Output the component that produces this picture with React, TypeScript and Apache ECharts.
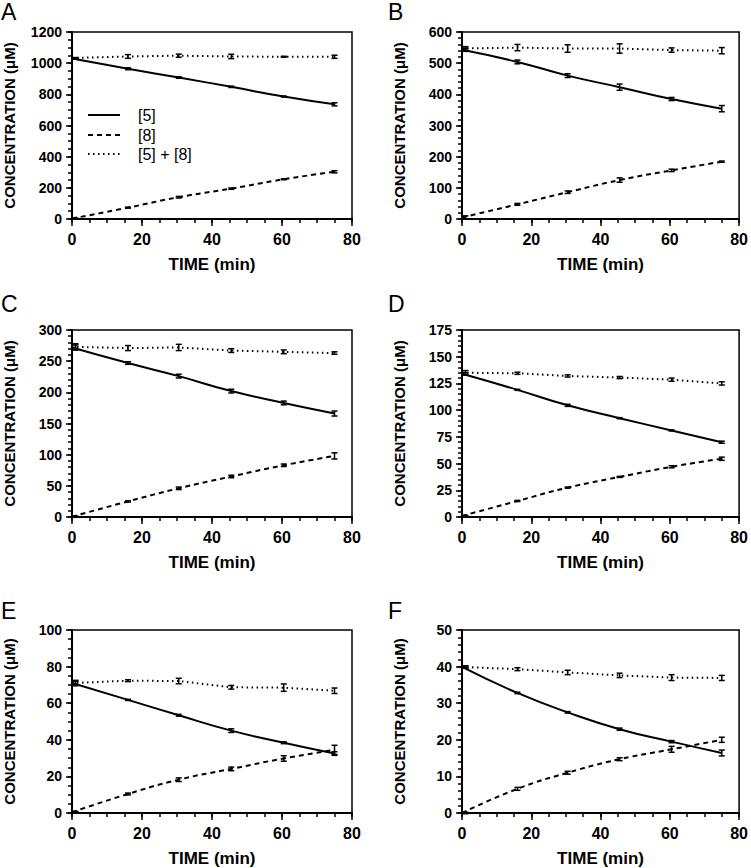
import React, { useEffect, useRef } from 'react';
import * as echarts from 'echarts';

// sampling times (min) of the measured points
const times = [1, 16, 30.5, 45.5, 60.5, 75];
// times used for the drawn curves (start at t = 0)
const curveTimes = [0, 16, 30.5, 45.5, 60.5, 75];
const xTicks = [0, 20, 40, 60, 80];
const xMinorStep = 5;

const panelLabels = ['A', 'B', 'C', 'D', 'E', 'F'];
const yMax = [1200, 600, 300, 175, 100, 50];
const yStep = [200, 100, 50, 25, 20, 10];
const yMinorStep = [50, 20, 10, 5, 5, 2];

// Panel A
const a5 = [1030, 964, 908, 848, 786, 736];
const a5Err = [4, 6, 5, 4, 3, 10];
const a8 = [3, 73, 140, 195, 255, 303];
const a8Err = [3, 3, 5, 4, 3, 7];
const aSum = [1033, 1043, 1048, 1043, 1041, 1041];
const aSumErr = [3, 12, 10, 14, 3, 10];

// Panel B
const b5 = [543, 504, 460, 423, 385, 354];
const b5Err = [5, 6, 6, 10, 5, 10];
const b8 = [5, 47, 86, 125, 156, 184];
const b8Err = [5, 3, 4, 7, 4, 2];
const bSum = [547, 550, 547, 547, 542, 540];
const bSumErr = [6, 10, 12, 15, 7, 10];

// Panel C
const c5 = [272, 247, 226, 202, 183, 166];
const c5Err = [4, 2, 3, 3, 3, 4];
const c8 = [0.5, 25, 46, 65, 83, 98];
const c8Err = [1, 1, 2, 2, 2, 5];
const cSum = [273, 271, 272, 267, 265, 263];
const cSumErr = [5, 4, 5, 3, 3, 2];

// Panel D
const d5 = [134, 119, 104.5, 92.5, 81, 70];
const d5Err = [1, 0.5, 1, 0.5, 0.5, 1];
const d8 = [1, 15, 27.5, 37.5, 47, 54.5];
const d8Err = [0.5, 0.5, 0.5, 0.5, 1, 1.5];
const dSum = [135, 134.5, 132, 130.5, 128.5, 125];
const dSumErr = [2, 1, 1, 1, 1.5, 1.5];

// Panel E
const e5 = [71, 61.8, 53.4, 45, 38.4, 32.5];
const e5Err = [1, 0.3, 0.5, 1, 0.5, 1];
const e8 = [0.4, 10.4, 18.2, 24.1, 29.8, 34.5];
const e8Err = [0.5, 0.5, 1, 1, 1.5, 2.5];
const eSum = [71, 72.3, 72.1, 68.7, 68.5, 66.8];
const eSumErr = [1.5, 0.5, 1.5, 1, 2, 1.5];

// Panel F
const f5 = [39.9, 32.8, 27.5, 22.9, 19.5, 16.4];
const f5Err = [0.3, 0.2, 0.2, 0.3, 0.3, 0.8];
const f8 = [0, 6.6, 11.0, 14.7, 17.4, 20.0];
const f8Err = [0.2, 0.4, 0.4, 0.4, 0.8, 0.7];
const fSum = [39.9, 39.3, 38.4, 37.6, 37.0, 36.9];
const fSumErr = [0.3, 0.4, 0.6, 0.6, 0.8, 0.7];

const panels = [
  { s5: a5, e5: a5Err, s8: a8, e8: a8Err, sum: aSum, eSum: aSumErr },
  { s5: b5, e5: b5Err, s8: b8, e8: b8Err, sum: bSum, eSum: bSumErr },
  { s5: c5, e5: c5Err, s8: c8, e8: c8Err, sum: cSum, eSum: cSumErr },
  { s5: d5, e5: d5Err, s8: d8, e8: d8Err, sum: dSum, eSum: dSumErr },
  { s5: e5, e5: e5Err, s8: e8, e8: e8Err, sum: eSum, eSum: eSumErr },
  { s5: f5, e5: f5Err, s8: f8, e8: f8Err, sum: fSum, eSum: fSumErr },
];

const legendNames = ['[5]', '[8]', '[5] + [8]'];
const FONT = 'Liberation Sans, Arial, Helvetica, sans-serif';

const styleSolid = 'solid';
const styleDashed = [5, 4];
const styleDotted = [1.5, 3.5];
const lineTypes: any[] = [styleSolid, styleDashed, styleDotted];

const gridLefts = [72, 462];
const gridTops = [32, 330, 630];
const gridW = 280;
const gridH = 187;

const errRender = (params: any, api: any) => {
  const x = api.value(0);
  const y = api.value(1);
  const e = api.value(2);
  const lo = api.coord([x, y - e]);
  const hi = api.coord([x, y + e]);
  const cap = 3;
  const st = { stroke: '#000', lineWidth: 1.5 };
  return {
    type: 'group',
    children: [
      { type: 'line', shape: { x1: lo[0], y1: lo[1], x2: hi[0], y2: hi[1] }, style: st },
      { type: 'line', shape: { x1: lo[0] - cap, y1: lo[1], x2: lo[0] + cap, y2: lo[1] }, style: st },
      { type: 'line', shape: { x1: hi[0] - cap, y1: hi[1], x2: hi[0] + cap, y2: hi[1] }, style: st },
    ],
  };
};

export default function App() {
  const ref = useRef<HTMLDivElement>(null);
  useEffect(() => {
    if (!ref.current) return;
    const chart = echarts.init(ref.current, null, { renderer: 'svg' });
    const grid: any[] = [];
    const xAxis: any[] = [];
    const yAxis: any[] = [];
    const series: any[] = [];
    const graphic: any[] = [];
    const minorX: any[] = [];
    const minorY: any[] = [];
    panels.forEach((p, i) => {
      const col = i % 2;
      const row = Math.floor(i / 2);
      grid.push({
        left: gridLefts[col],
        top: gridTops[row],
        width: gridW,
        height: gridH,
        show: true,
        borderColor: '#000',
        borderWidth: 1.5,
        backgroundColor: 'transparent',
      });
      xAxis.push({
        type: 'value',
        gridIndex: i,
        position: 'bottom',
        min: xTicks[0],
        max: xTicks[xTicks.length - 1],
        interval: xTicks[1] - xTicks[0],
        name: 'TIME (min)',
        nameLocation: 'middle',
        nameGap: 37,
        nameTextStyle: { fontFamily: FONT, fontWeight: 'bold', fontSize: 17, color: '#000' },
        axisLine: { show: true, onZero: false, lineStyle: { color: '#000', width: 2 } },
        axisTick: { show: true, inside: false, length: 7, lineStyle: { color: '#000', width: 1.5 } },
        splitLine: { show: false },
        axisLabel: {
          fontFamily: FONT,
          fontWeight: 'bold',
          fontSize: 16,
          color: '#000',
          margin: 12,
          formatter: (v: number) => String(v),
        },
      });
      yAxis.push({
        type: 'value',
        gridIndex: i,
        position: 'left',
        min: 0,
        max: yMax[i],
        interval: yStep[i],
        name: 'CONCENTRATION (μM)',
        nameLocation: 'middle',
        nameGap: 55,
        nameTextStyle: { fontFamily: FONT, fontWeight: 'bold', fontSize: 15, color: '#000' },
        axisLine: { show: true, onZero: false, lineStyle: { color: '#000', width: 2 } },
        axisTick: { show: true, inside: false, length: 6, lineStyle: { color: '#000', width: 1.5 } },
        splitLine: { show: false },
        axisLabel: {
          fontFamily: FONT,
          fontWeight: 'bold',
          fontSize: 14,
          color: '#000',
          margin: 10,
          formatter: (v: number) => String(v),
        },
      });
      // minor-tick axes (no line, no labels)
      minorX.push({
        type: 'value',
        gridIndex: i,
        position: 'bottom',
        min: xTicks[0],
        max: xTicks[xTicks.length - 1],
        interval: xMinorStep,
        axisLine: { show: false, onZero: false },
        axisTick: { show: true, inside: false, length: 4, lineStyle: { color: '#000', width: 1.5 } },
        axisLabel: { show: false },
        splitLine: { show: false },
      });
      minorY.push({
        type: 'value',
        gridIndex: i,
        position: 'left',
        min: 0,
        max: yMax[i],
        interval: yMinorStep[i],
        axisLine: { show: false, onZero: false },
        axisTick: { show: true, inside: false, length: 4, lineStyle: { color: '#000', width: 1.5 } },
        axisLabel: { show: false },
        splitLine: { show: false },
      });
      const curve = (vals: number[]) => curveTimes.map((t, k) => [t, vals[k]]);
      const curves = [p.s5, p.s8, p.sum];
      curves.forEach((vals, j) => {
        series.push({
          type: 'line',
          name: legendNames[j],
          xAxisIndex: i,
          yAxisIndex: i,
          data: curve(vals),
          smooth: j === 2 ? false : 0.5,
          symbol: 'none',
          lineStyle: { color: '#000', width: 2, type: lineTypes[j] },
          itemStyle: { color: '#000' },
          z: 3,
        });
      });
      const errs: [number[], number[]][] = [
        [p.s5, p.e5],
        [p.s8, p.e8],
        [p.sum, p.eSum],
      ];
      errs.forEach(([vals, ev]) => {
        series.push({
          type: 'custom',
          xAxisIndex: i,
          yAxisIndex: i,
          renderItem: errRender,
          encode: { x: 0, y: 1 },
          data: times.map((t, k) => [t, vals[k], ev[k]]),
          z: 4,
          silent: true,
        });
      });
      graphic.push({
        type: 'text',
        left: col === 0 ? 1 : 388,
        top: [0, 292, 599][row],
        style: {
          text: panelLabels[i],
          font: `normal 23px ${FONT}`,
          fill: '#000',
        },
      });
    });
    // legend in panel A
    const legendRows = [115, 135, 154];
    legendNames.forEach((name, j) => {
      graphic.push({
        type: 'line',
        shape: { x1: 88, y1: legendRows[j], x2: 120, y2: legendRows[j] },
        style: {
          stroke: '#000',
          lineWidth: 2,
          lineDash: j === 0 ? null : (lineTypes[j] as number[]),
        },
      });
      graphic.push({
        type: 'text',
        x: 138,
        y: legendRows[j],
        style: {
          text: name,
          font: `normal 16px ${FONT}`,
          fill: '#000',
          textVerticalAlign: 'middle',
          verticalAlign: 'middle',
        },
      });
    });
    chart.setOption({
      animation: false,
      backgroundColor: '#fff',
      grid,
      xAxis: xAxis.concat(minorX),
      yAxis: yAxis.concat(minorY),
      series,
      graphic,
    });
    return () => chart.dispose();
  }, []);
  return (
    <div
      ref={ref}
      style={{ position: 'absolute', left: 0, top: 0, width: 751, height: 868, background: '#fff' }}
    />
  );
}
